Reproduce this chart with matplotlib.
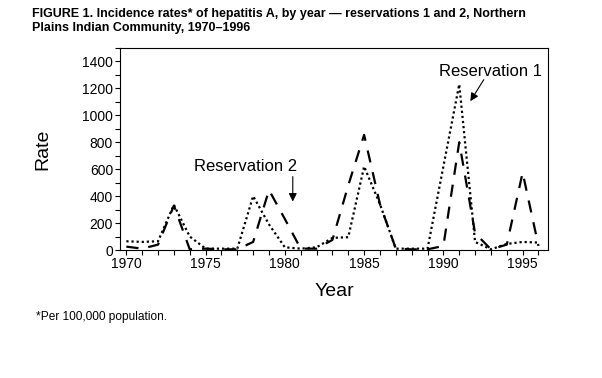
import matplotlib
matplotlib.use("Agg")
import matplotlib.pyplot as plt
from matplotlib.ticker import MultipleLocator

# incidence rates per 100,000
years = list(range(1970, 1997))
res1 = [65, 60, 65, 335, 100, 10, 10, 10, 400, 190, 20, 10, 20, 90, 95,
        620, 340, 10, 10, 10, 620, 1230, 60, 5, 45, 60, 55]
res2 = [25, 10, 40, 330, 5, 10, 5, 5, 60, 445, 230, 10, 10, 75, 480,
        855, 340, 10, 5, 5, 30, 800, 125, 5, 40, 575, 30]

title = ("FIGURE 1. Incidence rates* of hepatitis A, by year \u2014 reservations 1 and 2, Northern\n"
         "Plains Indian Community, 1970\u20131996")
footnote = "*Per 100,000 population."

plt.rcParams['font.family'] = ['Liberation Sans', 'DejaVu Sans']

fig = plt.figure(figsize=(6.02, 3.78), dpi=100)
ax = fig.add_axes([120 / 602, 1 - 250 / 378, 428 / 602, 202 / 378])

ax.plot(years, res1, color='black', lw=1.6, linestyle=(0, (1, 1.3)))
ax.plot(years, res2, color='black', lw=1.6, linestyle=(0, (5.5, 4.5)))

ax.set_xlim(1969.6, 1996.6)
ax.set_ylim(0, 1500)
ax.xaxis.set_major_locator(MultipleLocator(5))
ax.xaxis.set_minor_locator(MultipleLocator(1))
ax.yaxis.set_major_locator(MultipleLocator(200))
ax.yaxis.set_minor_locator(MultipleLocator(100))
ax.set_yticks(range(0, 1401, 200))
ax.tick_params(which='both', direction='out', length=3.5, width=0.8, labelsize=10, pad=1.5)
for s in ax.spines.values():
    s.set_linewidth(0.8)

ax.set_xlabel("Year", fontsize=14, labelpad=9)
ax.set_ylabel("Rate", fontsize=14, labelpad=22)

# annotations
ax.annotate("Reservation 2", xy=(1980.5, 360), xytext=(1977.5, 620),
            ha='center', va='center', fontsize=12)
ax.annotate("", xy=(1980.5, 360), xytext=(1980.5, 545),
            arrowprops=dict(arrowstyle='-|>', color='black', lw=0.8,
                            mutation_scale=12, shrinkA=0, shrinkB=0))
ax.annotate("Reservation 1", xy=(1991.7, 1105), xytext=(1993.0, 1326),
            ha='center', va='center', fontsize=12)
ax.annotate("", xy=(1991.7, 1105), xytext=(1992.55, 1265),
            arrowprops=dict(arrowstyle='-|>', color='black', lw=0.8,
                            mutation_scale=12, shrinkA=0, shrinkB=0))

fig.text(32 / 602, 1 - 8 / 378, title, ha='left', va='top', fontsize=9,
         fontweight='bold', linespacing=1.25)
fig.text(36 / 602, 1 - 317 / 378, footnote, ha='left', va='center', fontsize=8.6)

fig.savefig("out.png", dpi=100)
